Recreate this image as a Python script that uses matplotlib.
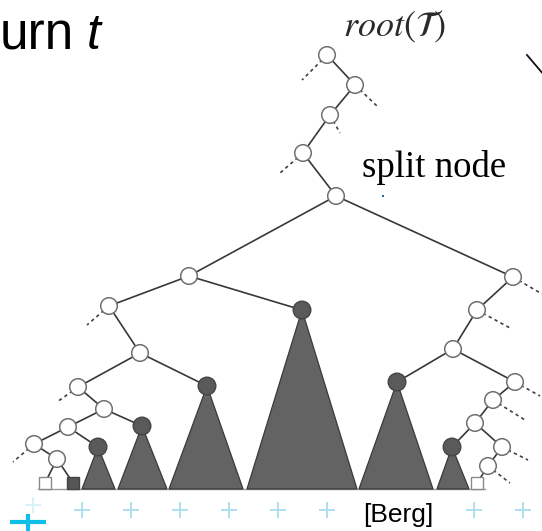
import matplotlib.pyplot as plt
from matplotlib.patches import Circle, Polygon, Rectangle

# node positions (picture pixels, y downwards)
hollow_names = ['r0', 'r1', 'r2', 'r3', 'split',
                'L1', 'L2', 'L3', 'L4', 'L5', 'L6', 'L7', 'L8',
                'R1', 'R2', 'R3', 'R4', 'R5', 'R6', 'R7', 'R8']
hollow_x = [327, 355, 330, 303, 336,
            189, 109, 140, 78, 104, 68, 34, 57,
            513, 477, 453, 515, 493, 475, 502, 488]
hollow_y = [55, 85, 115, 153, 196,
            276, 306, 353, 387, 409, 427, 444, 459,
            277, 310, 349, 382, 400, 423, 447, 466]

dark_names = ['D1', 'D2', 'D3', 'D4', 'D5', 'D6']
dark_x = [302, 207, 142, 98, 397, 452]
dark_y = [310, 386, 426, 447, 382, 447]
tri_left = [247, 169, 118, 82, 359, 437]
tri_right = [357, 243, 167, 115, 433, 469]
base_y = 489

leaf_names = ['SqL', 'SqD', 'SqR']
leaf_x = [45, 73, 477]
leaf_y = [483, 483, 483]
leaf_dark = [False, True, False]

edges = [('r0', 'r1'), ('r1', 'r2'), ('r2', 'r3'), ('r3', 'split'),
         ('split', 'L1'), ('split', 'R1'),
         ('L1', 'L2'), ('L1', 'D1'), ('L2', 'L3'), ('L3', 'L4'), ('L3', 'D2'),
         ('L4', 'L5'), ('L5', 'L6'), ('L5', 'D3'), ('L6', 'L7'), ('L6', 'D4'),
         ('L7', 'L8'), ('L8', 'SqL'), ('L8', 'SqD'),
         ('R1', 'R2'), ('R2', 'R3'), ('R3', 'D5'), ('R3', 'R4'), ('R4', 'R5'),
         ('R5', 'R6'), ('R6', 'D6'), ('R6', 'R7'), ('R7', 'R8'), ('R8', 'SqR')]

stub_from = ['r0', 'r1', 'r2', 'r3', 'L2', 'L4', 'L7',
             'R1', 'R2', 'R4', 'R5', 'R7', 'R8']
stub_x = [302, 378, 340, 280, 87, 57, 13, 542, 510, 540, 525, 528, 510]
stub_y = [80, 107, 133, 173, 325, 402, 462, 294, 328, 396, 420, 460, 483]

cross_x = [33, 82, 131, 180, 229, 278, 327, 376, 425, 474, 523]
cross_y = 510

pos = {}
for n, x, y in zip(hollow_names, hollow_x, hollow_y):
    pos[n] = (x, y)
for n, x, y in zip(dark_names, dark_x, dark_y):
    pos[n] = (x, y)
for n, x, y in zip(leaf_names, leaf_x, leaf_y):
    pos[n] = (x, y)

fig = plt.figure(figsize=(5.42, 5.31), dpi=100)
ax = fig.add_axes([0, 0, 1, 1])
ax.set_xlim(0, 542)
ax.set_ylim(531, 0)
ax.axis('off')

# light blue crosses along the bottom
ax.plot(cross_x[1:], [cross_y] * (len(cross_x) - 1), '+', color='#a9dcef',
        ms=11, mew=1.3, zorder=1)
ax.plot(cross_x[:1], [cross_y - 5], '+', color='#d8eff7', ms=11, mew=1.3, zorder=1)

# baseline
ax.plot([38, 485], [base_y, base_y], color='#9a9a9a', lw=1.0, zorder=2)

# subtrees
for x, y, a, b in zip(dark_x, dark_y, tri_left, tri_right):
    ax.add_patch(Polygon([(x, y), (a, base_y), (b, base_y)], closed=True,
                         fc='#636363', ec='#3a3a3a', lw=0.9, zorder=3))

for a, b in edges:
    (x0, y0), (x1, y1) = pos[a], pos[b]
    ax.plot([x0, x1], [y0, y1], color='#383838', lw=1.2, zorder=2)

for n, x, y in zip(stub_from, stub_x, stub_y):
    x0, y0 = pos[n]
    ax.plot([x0, x], [y0, y], color='#404040', lw=1.2, ls=(0, (2, 2)), zorder=2)

for x, y in zip(hollow_x, hollow_y):
    ax.add_patch(Circle((x, y), 8.3, fc='white', ec='#707070', lw=1.1, zorder=4))
for x, y in zip(dark_x, dark_y):
    ax.add_patch(Circle((x, y), 8.8, fc='#5a5a5a', ec='#444444', lw=1.0, zorder=4))
for x, y, d in zip(leaf_x, leaf_y, leaf_dark):
    ax.add_patch(Rectangle((x - 6, y - 6), 12, 12,
                           fc='#555555' if d else 'white',
                           ec='#444444' if d else '#8a8a8a', lw=1.0, zorder=4))

# texts
ax.text(0, 49, 'urn', fontsize=37, family='Liberation Sans', va='baseline', ha='left')
ax.text(87, 49, 't', fontsize=36, family='Liberation Sans', style='italic',
        va='baseline', ha='left')
plt.rcParams['mathtext.fontset'] = 'stix'
ax.text(395, 36, r'$root(\mathcal{T})$', fontsize=26, color='#2a2a2a',
        ha='center', va='baseline')
ax.text(362, 177, 'split node', fontsize=26.5, family='Liberation Serif',
        va='baseline', ha='left')
ax.plot([383], [196], 's', color='#3060a0', ms=1.6, mew=0)
ax.text(398, 522, '[Berg]', fontsize=19, family='Liberation Sans', ha='center',
        va='baseline', zorder=5,
        bbox=dict(fc='white', ec='none', pad=1))

# top-right stroke and bold cyan plus
ax.plot([527, 544], [55, 75], color='#111111', lw=1.3)
ax.plot([10, 46], [522, 522], color='#0fbfe6', lw=3.0, solid_capstyle='butt')
ax.plot([28, 28], [514, 533], color='#0fbfe6', lw=3.0, solid_capstyle='butt')

fig.savefig('out.png', dpi=100)
